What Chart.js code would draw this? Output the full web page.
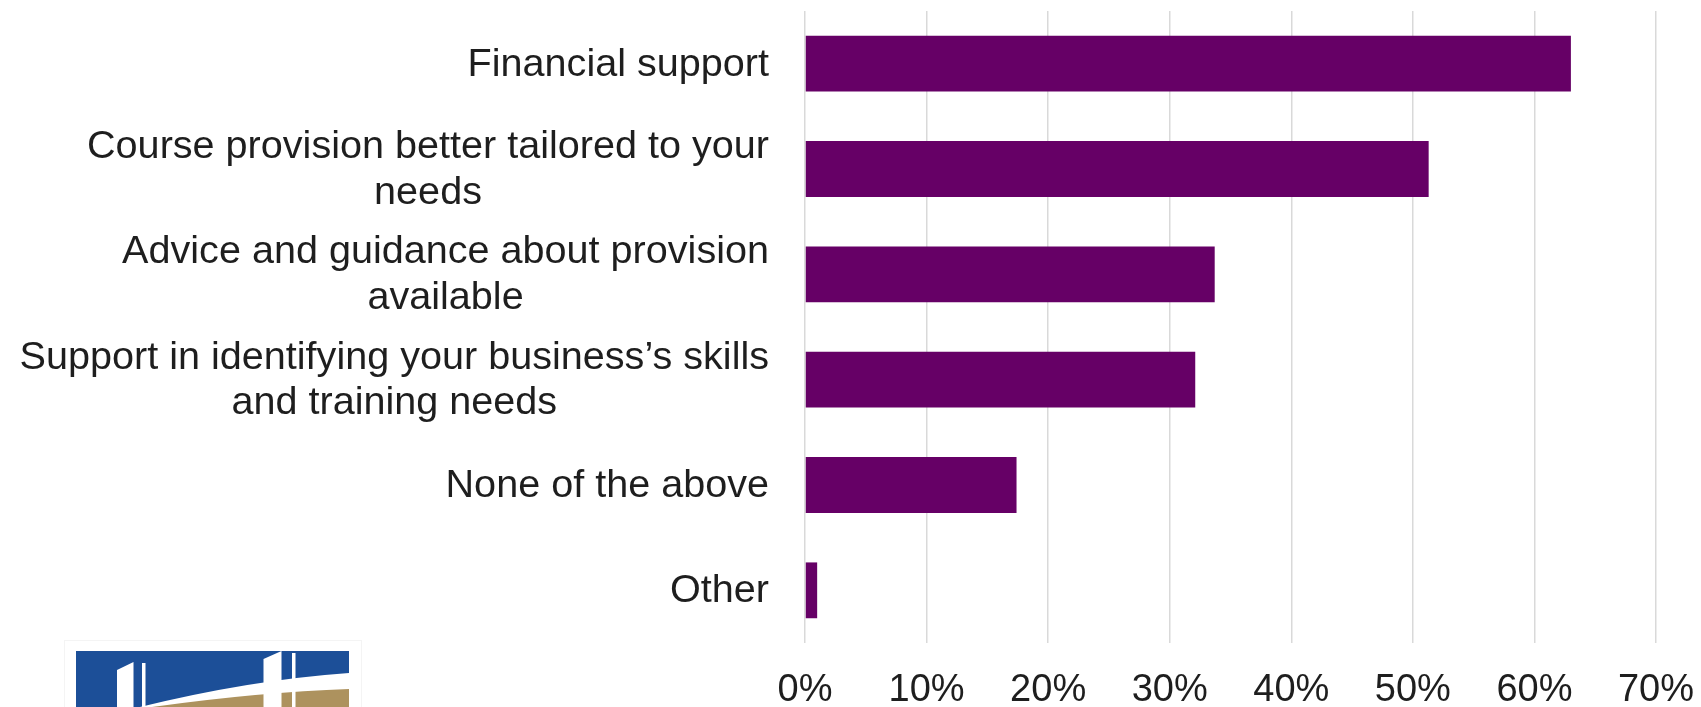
<!DOCTYPE html>
<html><head><meta charset="utf-8">
<script src="https://cdn.jsdelivr.net/npm/chart.js@4.4.1/dist/chart.umd.min.js"></script>
<style>html,body{margin:0;padding:0;background:#fff;overflow:hidden}#wrap{position:relative;width:1701px;height:707px}</style>
</head><body><div id="wrap"><canvas id="c" width="1701" height="707"></canvas></div>
<script>
const categories = [
  "Financial support",
  ["Course provision better tailored to your", "needs"],
  ["Advice and guidance about provision", "available"],
  ["Support in identifying your business\u2019s skills", "and training needs"],
  "None of the above",
  "Other"
];
const values = [63.0, 51.3, 33.7, 32.1, 17.4, 1.0];
const axisMin = 0, axisMax = 70, axisStep = 10;
const tickSuffix = "%";

const TEXT = "#1e1e1e";

const labelPlugin = {
  id: "catLabels",
  afterDraw(chart) {
    const ctx = chart.ctx, ys = chart.scales.y, area = chart.chartArea;
    ctx.save();
    ctx.font = '39.6px "Liberation Sans", Arial, sans-serif';
    ctx.fillStyle = TEXT;
    ctx.textBaseline = "middle";
    ctx.textAlign = "center";
    const right = area.left - 36;
    categories.forEach((lab, i) => {
      const lines = Array.isArray(lab) ? lab : [lab];
      const w = Math.max(...lines.map(l => ctx.measureText(l).width));
      const cy = ys.getPixelForTick(i);
      lines.forEach((l, j) => {
        ctx.fillText(l, right - w / 2, cy + 1 + (j - (lines.length - 1) / 2) * 45.6);
      });
    });
    ctx.restore();

    // logo (decoration)
    ctx.save();
    ctx.strokeStyle = "#f4f4f4"; ctx.lineWidth = 1;
    ctx.strokeRect(64.5, 640.5, 297, 80);
    ctx.fillStyle = "#1c4f98";
    ctx.fillRect(76, 651, 273, 56);
    ctx.fillStyle = "#ffffff";
    ctx.beginPath();
    ctx.moveTo(140, 707); ctx.quadraticCurveTo(250, 680, 349, 673); ctx.lineTo(349, 707); ctx.closePath(); ctx.fill();
    ctx.fillStyle = "#ad925e";
    ctx.beginPath();
    ctx.moveTo(152, 707); ctx.quadraticCurveTo(260, 692, 349, 689); ctx.lineTo(349, 707); ctx.closePath(); ctx.fill();
    ctx.fillStyle = "#ffffff";
    ctx.beginPath(); ctx.moveTo(117, 670); ctx.lineTo(133.5, 662); ctx.lineTo(133.5, 707); ctx.lineTo(117, 707); ctx.closePath(); ctx.fill();
    ctx.fillRect(142, 663, 3.5, 44);
    ctx.beginPath(); ctx.moveTo(263.5, 659); ctx.lineTo(281.5, 651); ctx.lineTo(281.5, 707); ctx.lineTo(263.5, 707); ctx.closePath(); ctx.fill();
    ctx.fillRect(292, 653, 3.5, 54);
    ctx.restore();
  }
};

new Chart(document.getElementById("c"), {
  type: "bar",
  data: {
    labels: categories,
    datasets: [{
      data: values,
      backgroundColor: "#660066",
      borderWidth: 0,
      barPercentage: 0.53,
      categoryPercentage: 1.0
    }]
  },
  options: {
    indexAxis: "y",
    responsive: false,
    animation: false,
    devicePixelRatio: 1,
    layout: { padding: { top: 11, right: 45, bottom: 0, left: 0 } },
    plugins: { legend: { display: false }, tooltip: { enabled: false } },
    scales: {
      x: {
        min: axisMin, max: axisMax,
        ticks: {
          stepSize: axisStep,
          callback: v => v + tickSuffix,
          font: { family: '"Liberation Sans", Arial, sans-serif', size: 38 },
          color: TEXT,
          padding: 25,
          maxRotation: 0
        },
        grid: { color: "#d9d9d9", lineWidth: 1.5, drawTicks: false },
        border: { display: false },
        afterFit: s => { s.height = 64; s.paddingLeft = 0; s.paddingRight = 0; }
      },
      y: {
        ticks: { display: false },
        grid: { display: false },
        border: { display: false },
        afterFit: s => { s.width = 805; s.paddingTop = 0; s.paddingBottom = 0; }
      }
    }
  },
  plugins: [labelPlugin]
});
</script></body></html>
